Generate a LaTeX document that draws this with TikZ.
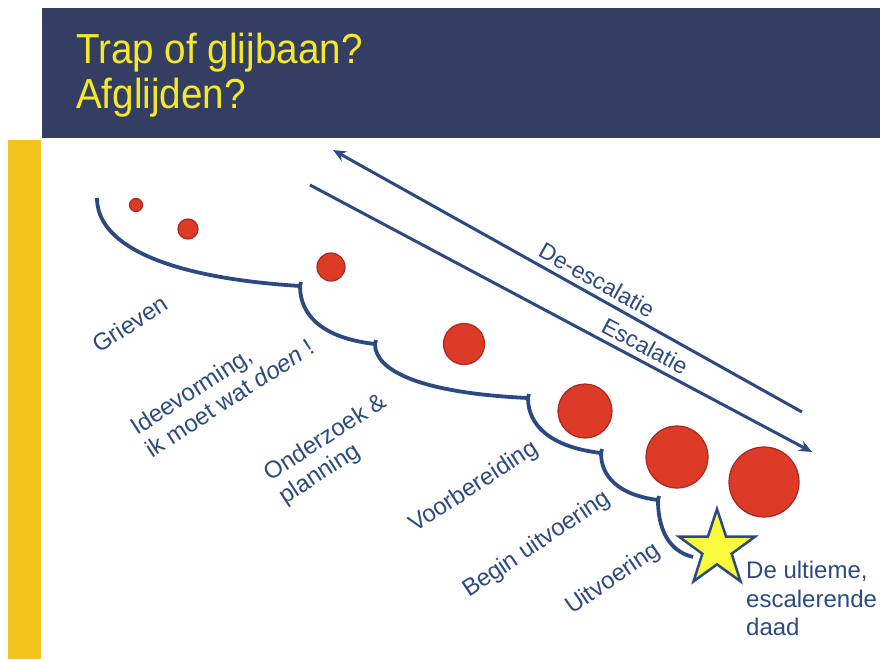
\documentclass[tikz,border=0pt]{standalone}
\usepackage{fontspec}
\usepackage{graphicx}
\setmainfont{Liberation Sans}
\usetikzlibrary{arrows.meta,shapes.geometric}
\definecolor{hdr}{RGB}{52,62,98}
\definecolor{ttl}{RGB}{245,232,40}
\definecolor{gold}{RGB}{243,195,30}
\definecolor{navy}{RGB}{44,74,130}
\definecolor{dotred}{RGB}{222,58,40}
\definecolor{dotedge}{RGB}{170,40,30}
\definecolor{staryel}{RGB}{250,250,60}
\newcommand{\narrowtitle}[1]{\scalebox{0.92}[1]{#1}}
\begin{document}
\begin{tikzpicture}[x=1pt,y=-1pt,
  titletext/.style={text=ttl, font=\fontsize{42}{46}\selectfont, anchor=base west, inner sep=0},
  lbl/.style={text=navy, font=\fontsize{24}{27}\selectfont, anchor=base west, inner sep=0, rotate=33},
  lbltwo/.style={text=navy, font=\fontsize{24}{27}\selectfont, anchor=north west, align=left, inner sep=0, rotate=33},
  flatlbl/.style={text=navy, font=\fontsize{24}{28.5}\selectfont, anchor=north west, align=left, inner sep=0},
  arrowlbl/.style={text=navy, font=\fontsize{23}{28}\selectfont, inner sep=0},
  dot/.style={circle, fill=dotred, draw=dotedge, line width=1.2pt, inner sep=0},
  slide/.style={draw=navy, line width=3.8pt, line join=miter},
  bigarrow/.style={draw=navy, line width=3pt, -{Stealth[length=13pt,width=11pt]}},
  starnode/.style={star, star points=5, star point ratio=2.6, minimum size=80pt, inner sep=0,
                   fill=staryel, draw=navy, line width=2.5pt}
]
\useasboundingbox (0,0) rectangle (880,659);
\fill[white] (0,0) rectangle (880,659);
% header and side bar
\fill[hdr] (42,8) rectangle (880,138);
\fill[gold] (8,140) rectangle (41,659);
\node[titletext] (t1) at (76,63) {\narrowtitle{Trap of glijbaan?}};
\node[titletext] (t2) at (76,108) {\narrowtitle{Afglijden?}};

% slide
\coordinate (c0) at (97,198);
\coordinate (c1) at (300,286);
\coordinate (c2) at (375,344);
\coordinate (c3) at (528,398);
\coordinate (c4) at (601,453);
\coordinate (c5) at (658,500);
\coordinate (c6) at (693,557);
\draw[slide] (c0) .. controls (97,242) and (158,277) .. (c1)
  -- ++(1,-4) -- (c1)
  .. controls (300,315) and (322,338) .. (c2)
  -- ++(1,-4) -- (c2)
  .. controls (375,371) and (421,393) .. (c3)
  -- ++(1,-4) -- (c3)
  .. controls (528,425) and (550,447) .. (c4)
  -- ++(1,-4) -- (c4)
  .. controls (601,476) and (618,495) .. (c5)
  -- ++(1,-4) -- (c5)
  .. controls (658,528) and (668,551) .. (c6);

% balls
\node[dot, minimum size=13pt] (b1) at (136,205) {};
\node[dot, minimum size=20pt] (b2) at (188,229) {};
\node[dot, minimum size=28pt] (b3) at (331,267) {};
\node[dot, minimum size=41pt] (b4) at (464,344) {};
\node[dot, minimum size=54pt] (b5) at (585,411) {};
\node[dot, minimum size=62pt] (b6) at (677,457) {};
\node[dot, minimum size=70pt] (b7) at (764,482) {};

% star
\node[starnode] (st) at (717,549) {};

% arrows
\coordinate (de0) at (802,412);
\coordinate (de1) at (333,150);
\coordinate (es0) at (310,185);
\coordinate (es1) at (812,452);
\draw[bigarrow] (de0) -- (de1);
\draw[bigarrow] (es0) -- (es1);
\node[arrowlbl, rotate=-29.2] (deesc) at (597,280) {De-escalatie};
\node[arrowlbl, rotate=-28] (esc) at (645,346) {Escalatie};

% stage labels
\node[lbl] (l1) at (99,354) {Grieven};
\node[lbltwo] (l2) at (128,421) {Ideevorming,\\ik moet wat \textit{doen} !};
\node[lbltwo] (l3) at (261,467) {Onderzoek \&\\planning};
\node[lbl] (l4) at (415,533) {Voorbereiding};
\node[lbl, rotate=1] (l5) at (469,598) {Begin uitvoering};
\node[lbl, rotate=1.5] (l6) at (572,615) {Uitvoering};
\node[flatlbl] (f) at (746,561) {De ultieme,\\escalerende\\daad};
\end{tikzpicture}
\end{document}
